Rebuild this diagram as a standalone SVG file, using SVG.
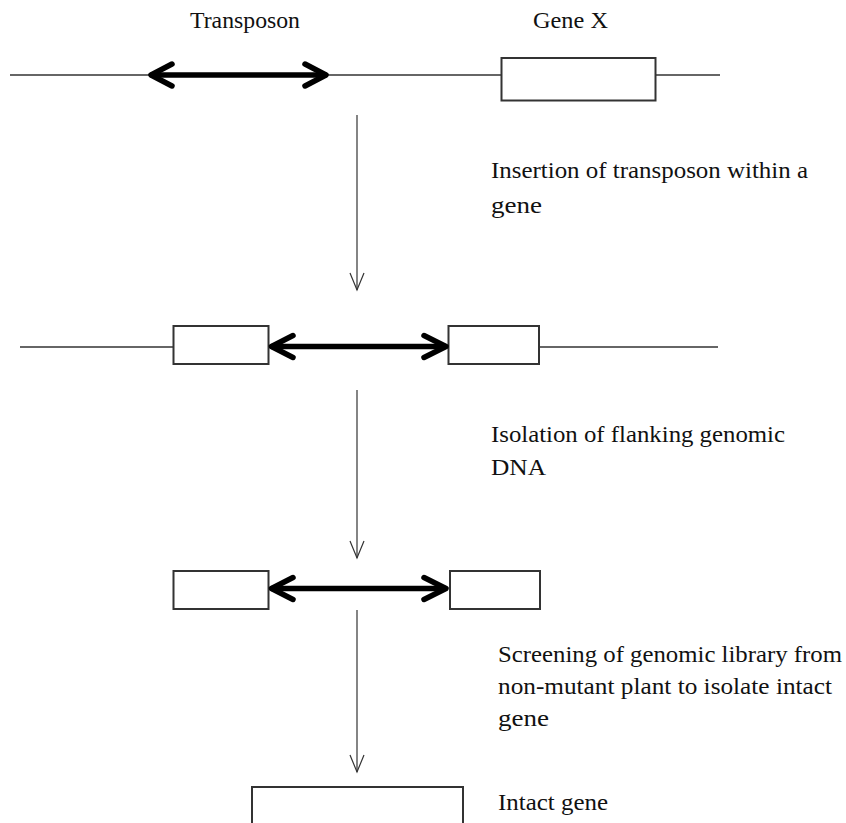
<svg xmlns="http://www.w3.org/2000/svg" width="846" height="823" viewBox="0 0 846 823">
<style>
.dna{stroke:#333;stroke-width:1.6;fill:none}
.box{fill:#fff;stroke:#333;stroke-width:2}
.tp{stroke:#000;stroke-width:5.5;fill:none;stroke-linecap:round;stroke-linejoin:round}
.flow{stroke:#333;stroke-width:1.2;fill:none}
text{font-family:"Liberation Serif","Times New Roman",serif;font-size:24px;fill:#111}
</style>
<rect width="846" height="823" fill="#fff"/>
<g id="labels">
<text x="190" y="28" textLength="110" lengthAdjust="spacingAndGlyphs">Transposon</text>
<text x="533" y="28" textLength="75" lengthAdjust="spacingAndGlyphs">Gene X</text>
</g>
<g id="row1">
<line class="dna" x1="10" y1="75" x2="720" y2="75"/>
<rect id="geneX" class="box" x="501.5" y="58" width="154" height="42.5"/>
<g id="transposon1">
<line class="tp" x1="152" y1="75" x2="325" y2="75"/>
<polyline class="tp" points="172,64 151,75 172,86"/>
<polyline class="tp" points="305,64 326,75 305,86"/>
</g>
</g>
<g id="row2">
<line class="dna" x1="20" y1="347" x2="718" y2="347"/>
<rect id="flank2a" class="box" x="173.5" y="326" width="95" height="38"/>
<rect id="flank2b" class="box" x="448.5" y="326" width="90.5" height="38"/>
<g id="transposon2">
<line class="tp" x1="272" y1="346.5" x2="445" y2="346.5"/>
<polyline class="tp" points="293,335.5 271.5,346.5 293,357.5"/>
<polyline class="tp" points="424,335.5 446,346.5 424,357.5"/>
</g>
</g>
<g id="row3">
<rect id="flank3a" class="box" x="173.5" y="571" width="95" height="38"/>
<rect id="flank3b" class="box" x="450" y="571" width="90" height="38"/>
<g id="transposon3">
<line class="tp" x1="272" y1="588.5" x2="445" y2="588.5"/>
<polyline class="tp" points="293,577.5 271.5,588.5 293,599.5"/>
<polyline class="tp" points="424,577.5 446,588.5 424,599.5"/>
</g>
</g>
<g id="row4">
<rect id="intactGene" class="box" x="252" y="787" width="211" height="50"/>
</g>
<g id="connectors">
<line class="flow" x1="357" y1="115" x2="357" y2="290"/>
<polyline class="flow" points="350,273 357,290 364,273"/>
<line class="flow" x1="357" y1="390" x2="357" y2="558"/>
<polyline class="flow" points="350,541 357,558 364,541"/>
<line class="flow" x1="357" y1="610" x2="357" y2="772"/>
<polyline class="flow" points="350,755 357,772 364,755"/>
</g>
<g id="steps">
<text x="491" y="178" textLength="317" lengthAdjust="spacingAndGlyphs">Insertion of transposon within a</text>
<text x="491" y="213" textLength="51" lengthAdjust="spacingAndGlyphs">gene</text>
<text x="491" y="442" textLength="294" lengthAdjust="spacingAndGlyphs">Isolation of flanking genomic</text>
<text x="491" y="475" textLength="55" lengthAdjust="spacingAndGlyphs">DNA</text>
<text x="498" y="662" textLength="344" lengthAdjust="spacingAndGlyphs">Screening of genomic library from</text>
<text x="498" y="694" textLength="334" lengthAdjust="spacingAndGlyphs">non-mutant plant to isolate intact</text>
<text x="498" y="726" textLength="51" lengthAdjust="spacingAndGlyphs">gene</text>
<text x="498" y="810" textLength="110" lengthAdjust="spacingAndGlyphs">Intact gene</text>
</g>
</svg>
